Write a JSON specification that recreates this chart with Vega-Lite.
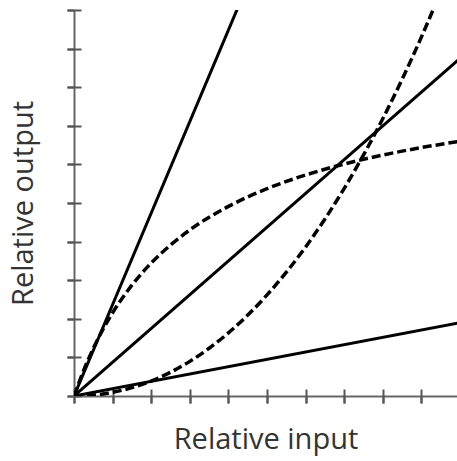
{
  "$schema": "https://vega.github.io/schema/vega-lite/v6.json",
  "width": 383,
  "height": 386,
  "autosize": "none",
  "padding": {"left": 74, "top": 10, "right": 0, "bottom": 65},
  "background": "white",
  "config": {"view": {"stroke": null}},
  "datasets": {
    "solid": [
      {"series": "steep", "x": 0, "y": 0},
      {"series": "steep", "x": 4.4, "y": 10.43},
      {"series": "middle", "x": 0, "y": 0},
      {"series": "middle", "x": 10, "y": 8.75},
      {"series": "low", "x": 0, "y": 0},
      {"series": "low", "x": 10, "y": 1.9}
    ],
    "dashed": [
      {"series": "saturating", "x": 0, "y": 0},
      {"series": "saturating", "x": 0.25, "y": 0.665},
      {"series": "saturating", "x": 0.5, "y": 1.233},
      {"series": "saturating", "x": 0.75, "y": 1.726},
      {"series": "saturating", "x": 1, "y": 2.156},
      {"series": "saturating", "x": 1.5, "y": 2.872},
      {"series": "saturating", "x": 2, "y": 3.445},
      {"series": "saturating", "x": 2.5, "y": 3.912},
      {"series": "saturating", "x": 3, "y": 4.302},
      {"series": "saturating", "x": 4, "y": 4.912},
      {"series": "saturating", "x": 5, "y": 5.37},
      {"series": "saturating", "x": 6, "y": 5.726},
      {"series": "saturating", "x": 7, "y": 6.01},
      {"series": "saturating", "x": 8, "y": 6.243},
      {"series": "saturating", "x": 9, "y": 6.436},
      {"series": "saturating", "x": 10, "y": 6.6},
      {"series": "accelerating", "x": 0, "y": 0},
      {"series": "accelerating", "x": 0.5, "y": 0.023},
      {"series": "accelerating", "x": 1, "y": 0.095},
      {"series": "accelerating", "x": 1.5, "y": 0.216},
      {"series": "accelerating", "x": 2, "y": 0.388},
      {"series": "accelerating", "x": 2.5, "y": 0.615},
      {"series": "accelerating", "x": 3, "y": 0.897},
      {"series": "accelerating", "x": 3.5, "y": 1.237},
      {"series": "accelerating", "x": 4, "y": 1.636},
      {"series": "accelerating", "x": 4.5, "y": 2.096},
      {"series": "accelerating", "x": 5, "y": 2.619},
      {"series": "accelerating", "x": 5.5, "y": 3.207},
      {"series": "accelerating", "x": 6, "y": 3.862},
      {"series": "accelerating", "x": 6.5, "y": 4.586},
      {"series": "accelerating", "x": 7, "y": 5.381},
      {"series": "accelerating", "x": 7.5, "y": 6.248},
      {"series": "accelerating", "x": 8, "y": 7.189},
      {"series": "accelerating", "x": 8.5, "y": 8.208},
      {"series": "accelerating", "x": 9, "y": 9.304},
      {"series": "accelerating", "x": 9.5, "y": 10.481}
    ]
  },
  "resolve": {"axis": {"x": "independent", "y": "independent"}},
  "layer": [
    {
      "data": {"name": "solid"},
      "mark": {"type": "line", "color": "black", "strokeWidth": 3, "clip": true},
      "encoding": {
        "x": {
          "field": "x", "type": "quantitative",
          "scale": {"domain": [0, 9.92], "nice": false, "zero": true},
          "axis": {
            "orient": "bottom", "values": [0,1,2,3,4,5,6,7,8,9],
            "labels": false, "grid": false,
            "domainColor": "#666", "domainWidth": 2,
            "tickColor": "#555", "tickWidth": 2, "tickSize": 7,
            "title": "Relative input",
            "titleFont": "Open Sans", "titleFontSize": 29, "titleFontWeight": "normal",
            "titleColor": "#333", "titlePadding": 21
          }
        },
        "y": {
          "field": "y", "type": "quantitative",
          "scale": {"domain": [0, 10], "nice": false},
          "axis": {
            "orient": "left", "values": [0,1,2,3,4,5,6,7,8,9,10],
            "labels": false, "grid": false,
            "domainColor": "#666", "domainWidth": 2,
            "tickColor": "#555", "tickWidth": 2, "tickSize": 7,
            "title": "Relative output",
            "titleFont": "Open Sans", "titleFontSize": 29, "titleFontWeight": "normal",
            "titleColor": "#333", "titlePadding": 28
          }
        },
        "detail": {"field": "series", "type": "nominal"}
      }
    },
    {
      "data": {"name": "dashed"},
      "mark": {"type": "line", "color": "black", "strokeWidth": 3.5, "strokeDash": [9, 4], "interpolate": "monotone", "clip": true},
      "encoding": {
        "x": {
          "field": "x", "type": "quantitative",
          "axis": {
            "orient": "bottom", "offset": -7, "values": [0,1,2,3,4,5,6,7,8,9],
            "labels": false, "grid": false, "domain": false,
            "tickColor": "#555", "tickWidth": 2, "tickSize": 14, "title": null
          }
        },
        "y": {
          "field": "y", "type": "quantitative",
          "axis": {
            "orient": "left", "offset": -7, "values": [0,1,2,3,4,5,6,7,8,9,10],
            "labels": false, "grid": false, "domain": false,
            "tickColor": "#555", "tickWidth": 2, "tickSize": 14, "title": null
          }
        },
        "detail": {"field": "series", "type": "nominal"}
      }
    }
  ]
}
